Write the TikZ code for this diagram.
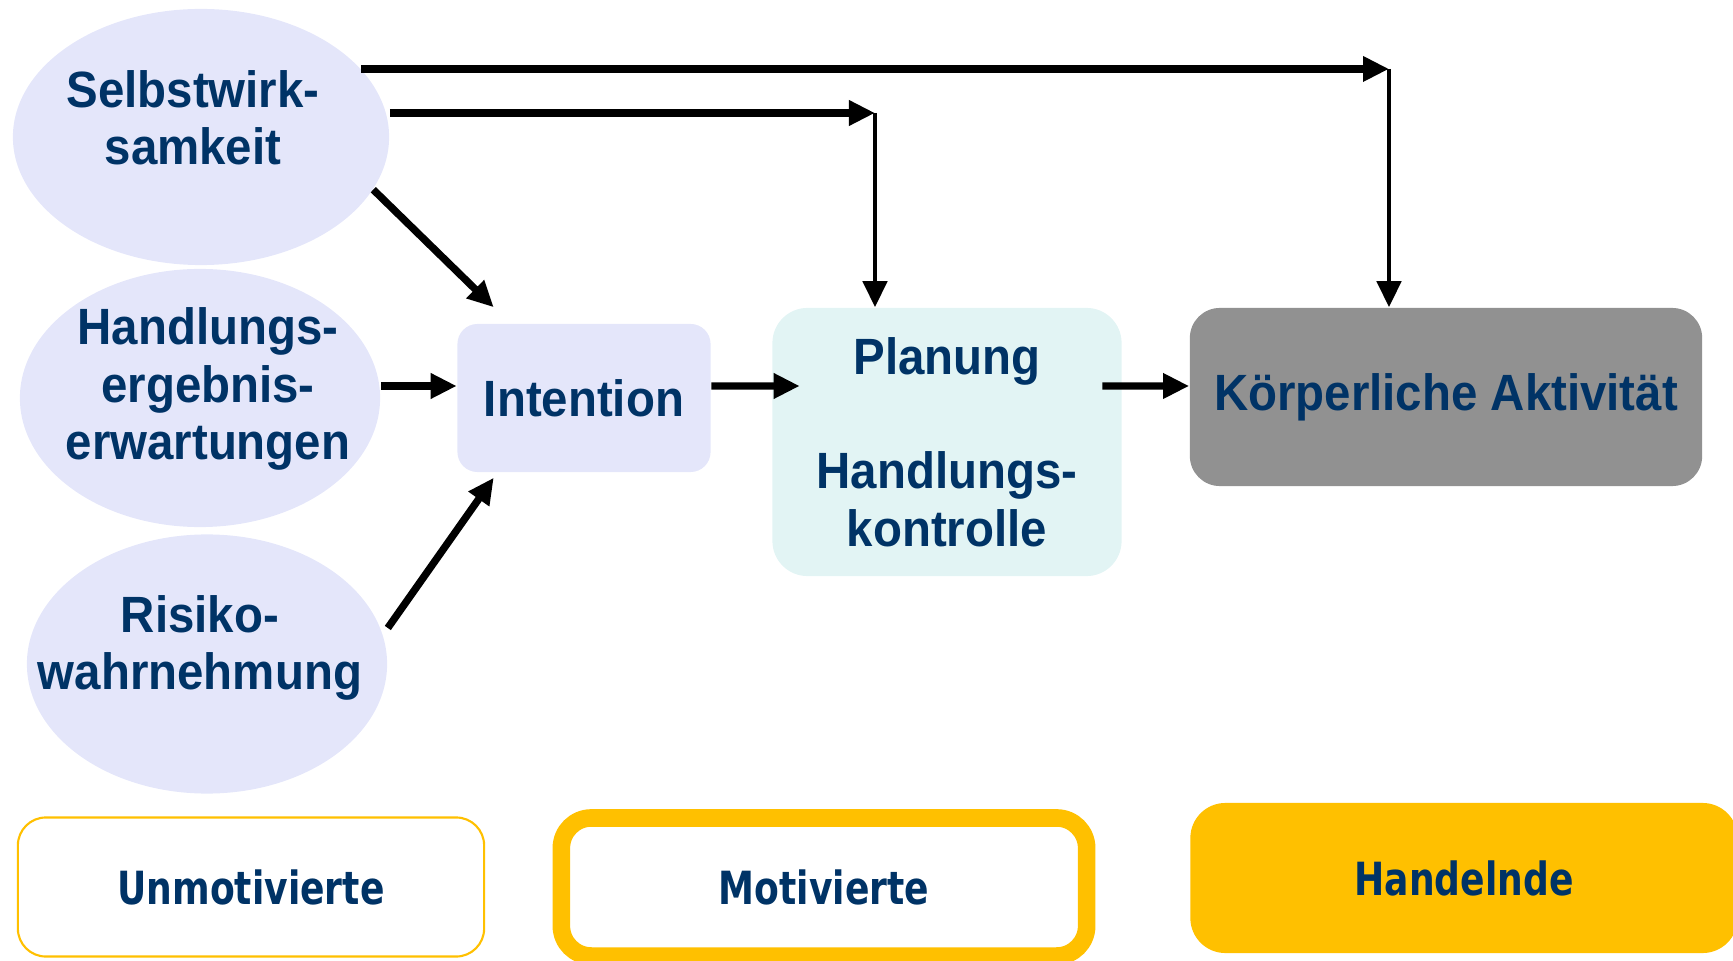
\documentclass[tikz,border=0pt]{standalone}
\usepackage{fontspec}
\newfontfamily\diagfont[FakeStretch=0.93]{Liberation Sans}
\newfontfamily\stagefont[FakeStretch=0.79]{DejaVu Sans}
\usetikzlibrary{positioning, arrows.meta, calc, shapes.geometric}

\definecolor{txtblue}{RGB}{0,51,102}
\definecolor{lavender}{RGB}{228,230,250}
\definecolor{paleteal}{RGB}{226,244,244}
\definecolor{hatchgray}{RGB}{145,145,145}
\definecolor{gold}{RGB}{255,192,0}

\begin{document}
\begin{tikzpicture}[
    x=0.01cm, y=-0.01cm,
    factor/.style={ellipse, fill=lavender, draw=none, inner sep=0pt,
        minimum width=3.6cm, minimum height=2.58cm},
    factor text/.style={font=\diagfont\bfseries\fontsize{14.5}{16.3}\selectfont,
        text=txtblue, align=center},
    phase/.style={rectangle, draw=none, inner sep=0pt, factor text},
    stage/.style={rectangle, inner sep=0pt, text=txtblue,
        font=\stagefont\bfseries\fontsize{13}{15}\selectfont},
    arr/.style={-{Triangle[length=0.26cm, width=0.24cm]}, line width=2.1pt, black},
    thin arr/.style={arr, line width=1.3pt}
]

% Rahmen der Grafik
\useasboundingbox (0,0) rectangle (1733,961);
\clip (0,0) rectangle (1733,961);

% ------------------------------------------------------------------------------
% 1. EINFLUSSFAKTOREN (Ellipsen links)
% ------------------------------------------------------------------------------
\node[factor, minimum width=3.76cm, minimum height=2.56cm] (sw) at (201,137) {};
\node[factor text] (sw text) at (193,118) {Selbstwirk-\\samkeit};

\node[factor, minimum height=2.58cm] (he) at (200,398) {};
\node[factor text] (he text) at (208,389) {Handlungs-\\ergebnis-\\erwartungen};

\node[factor, minimum height=2.59cm] (rw) at (207,664) {};
\node[factor text] (rw text) at (200,648) {Risiko-\\wahrnehmung};

% ------------------------------------------------------------------------------
% 2. PHASEN (Intention, Planung, Verhalten)
% ------------------------------------------------------------------------------
\node[phase, fill=lavender, rounded corners=0.2cm,
      minimum width=2.53cm, minimum height=1.48cm] (in) at (584,398) {Intention};
\node[phase, fill=paleteal, rounded corners=0.35cm,
      minimum width=3.49cm, minimum height=2.68cm] (pl) at (947,442)
      {Planung\\ \\Handlungs-\\kontrolle};
\node[phase, fill=hatchgray, rounded corners=0.3cm,
      minimum width=5.12cm, minimum height=1.78cm] (kp) at (1446,397)
      {Körperliche Aktivität};

% ------------------------------------------------------------------------------
% 3. PFEILE
% ------------------------------------------------------------------------------
% Selbstwirksamkeit oben herum
\coordinate (c1) at (sw.23 -| 1389,0);
\coordinate (c2) at (875,113);
\draw[arr] (sw.23) -- (c1);
\draw[thin arr] (c1) -- (c1 |- kp.north);
\draw[arr] (sw.east |- c2) -- (c2);
\draw[thin arr] (c2) -- (c2 |- pl.north);

% Faktoren -> Intention
\draw[arr] (sw.-17) -- ($(in.north west)+(37,-16)$);
\draw[arr] ([yshift=0.12cm]he.east) -- ([yshift=0.12cm]in.west);
\draw[arr] ([yshift=0.36cm]rw.east) -- ($(in.south west)+(37,5)$);

% Intention -> Planung -> Aktivität
\draw[arr] ([yshift=0.12cm]in.east) -- ($(pl.west |- in.east)+(28,-12)$);
\draw[arr] ($(pl.east |- kp.west)+(-20,-11)$) -- ([yshift=0.11cm]kp.west);

% ------------------------------------------------------------------------------
% 4. STUFEN (unten)
% ------------------------------------------------------------------------------
\node[stage, draw=gold, line width=0.6pt, fill=white, rounded corners=0.28cm,
      minimum width=4.66cm, minimum height=1.39cm] (unmot) at (251,887) {Unmotivierte};
\node[stage, draw=gold, line width=5pt, fill=white, rounded corners=0.3cm,
      minimum width=5.25cm, minimum height=1.38cm] (mot) at (824,887) {Motivierte};
\node[stage, fill=gold, rounded corners=0.35cm,
      minimum width=5.47cm, minimum height=1.5cm] (hand) at (1464,878) {Handelnde};

\end{tikzpicture}
\end{document}
